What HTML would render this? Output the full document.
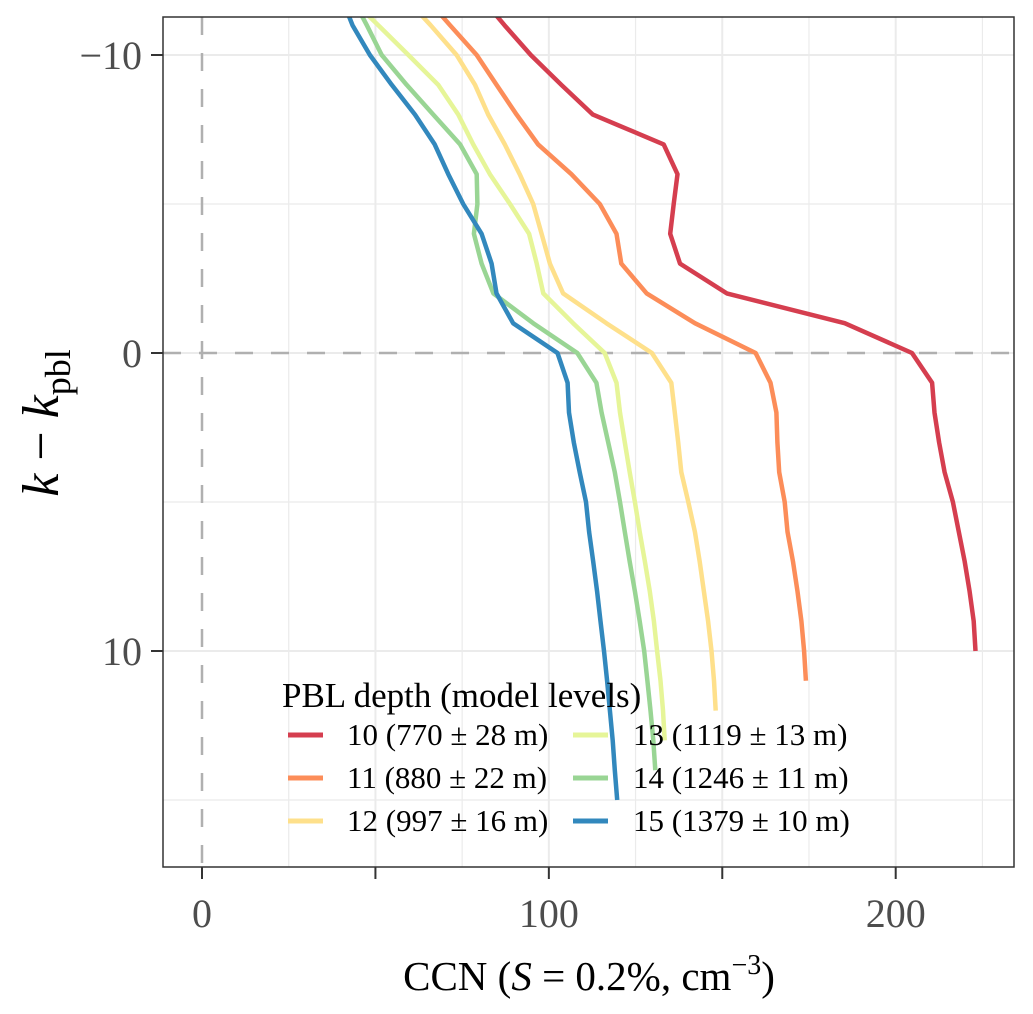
<!DOCTYPE html>
<html><head><meta charset="utf-8"><style>
html,body{margin:0;padding:0;background:#fff;}
svg{display:block;font-family:"Liberation Serif",serif;}
</style></head><body>
<svg id="chart" width="1033" height="1014" viewBox="0 0 1033 1014">
<defs><clipPath id="pc"><rect x="163" y="17" width="851" height="850"/></clipPath></defs>
<rect x="163" y="17" width="851" height="850" fill="#fff"/>
<g id="grid"></g>
<g id="series" clip-path="url(#pc)"></g>
<rect x="163" y="17" width="851" height="850" fill="none" stroke="#333" stroke-width="1.5"/>
<g id="axes"></g>
<text x="589" y="990" text-anchor="middle" font-size="41" fill="#000">CCN (<tspan font-style="italic">S</tspan> = 0.2%, cm<tspan dy="-16" font-size="28">−3</tspan><tspan dy="16">)</tspan></text>
<text transform="translate(58,423) rotate(-90)" text-anchor="middle" font-size="52" fill="#000"><tspan font-style="italic">k</tspan> − <tspan font-style="italic">k</tspan><tspan dy="12" font-size="36">pbl</tspan></text>
<g id="legend">
<text x="282" y="707" font-size="35" fill="#000">PBL depth (model levels)</text>
</g>
</svg>
<script>
const levels = [-12,-11,-10,-9,-8,-7,-6,-5,-4,-3,-2,-1,0,1,2,3,4,5,6,7,8,9,10,11,12,13,14,15];
const s10 = [80,87.2,94.8,103.6,112.7,133.1,137.1,136,135,137.8,151.3,185.3,204.7,210.5,211.2,212.5,214.1,216.5,218.2,219.9,221.3,222.5,223];
const s11 = [64,71.5,79.2,84.9,90.7,96.9,106.5,114.7,119.5,120.9,128.2,142.1,159.6,163.9,165.6,165.9,166.4,168,168.8,170.4,171.7,172.8,173.6,174.1];
const s12 = [58,65.9,73.4,78.7,82.5,87.3,91.6,95.5,97.9,100.3,104.1,116.6,129.7,135.3,136.3,137.3,138.2,140.2,142.1,143.5,144.7,145.9,146.9,147.6,148.1];
const s13 = [42,50.8,59.5,68.1,73.9,78.2,83,88.8,94.3,96.5,98.4,107,116.1,119.5,120.5,121.9,123.3,124.8,126.2,127.7,129.1,130.3,131.2,132.2,132.9,133.4];
const s14 = [43,47.5,51.8,59,66.7,74.4,79.2,79.4,78.4,80.6,84,95.5,108.2,113.7,115.2,117.1,119,120.5,121.9,123.3,124.8,126.2,127.5,128.4,129.3,130.1,130.7];
const s15 = [40,43.4,48.4,54.7,61.4,67.1,71,75.3,80.6,83.5,84.9,89.7,102.5,105.4,105.8,107.2,108.9,110.7,111.6,112.8,113.9,114.9,115.9,116.8,117.6,118.4,119,119.7];
const seriesNames = ["10 (770 ± 28 m)","11 (880 ± 22 m)","12 (997 ± 16 m)","13 (1119 ± 13 m)","14 (1246 ± 11 m)","15 (1379 ± 10 m)"];
const seriesColors = ["#d53e4f","#fc8d59","#fee08b","#e6f598","#99d594","#3288bd"];
const xTicks = [0,100,200];
const xMinorTicks = [50,150];
const yTicks = [-10,0,10];
const yTickLabels = ["−10","0","10"];

const NS="http://www.w3.org/2000/svg";
const X = v => 202 + v*3.4685;
const Y = k => 353 + k*29.8;
function mk(tag, attrs, parent){const e=document.createElementNS(NS,tag);for(const a in attrs)e.setAttribute(a,attrs[a]);parent.appendChild(e);return e;}
const grid=document.getElementById('grid'), axes=document.getElementById('axes'), ser=document.getElementById('series'), leg=document.getElementById('legend');
for(let v=25;v<=250;v+=25){
  const g=mk('line',{x1:X(v),x2:X(v),y1:17,y2:867,stroke:'#ebebeb','stroke-width':(v%50===0)?2:1.2},grid);
  
  
}
for(let k=-10;k<=15;k+=5){
  const g=mk('line',{x1:163,x2:1014,y1:Y(k),y2:Y(k),stroke:'#ebebeb','stroke-width':(k%10===0)?2:1.2},grid);
  
  
}
const d1=mk('line',{x1:X(0),x2:X(0),y1:17,y2:867,stroke:'#b0b0b0','stroke-width':2.5,'stroke-dasharray':'18 18'},grid);


const d2=mk('line',{x1:163,x2:1014,y1:Y(0),y2:Y(0),stroke:'#b0b0b0','stroke-width':2.5,'stroke-dasharray':'18 18'},grid);


const allSeries=[s10,s11,s12,s13,s14,s15];
allSeries.forEach((s,i)=>{
  const pts=s.map((v,j)=>X(v).toFixed(1)+','+Y(levels[j]).toFixed(1)).join(' ');
  const p=mk('polyline',{points:pts,fill:'none',stroke:seriesColors[i],'stroke-width':4.5,'stroke-linejoin':'round'},ser);
  
  
});
xTicks.concat(xMinorTicks).forEach(v=>{
  const t=mk('line',{x1:X(v),x2:X(v),y1:867,y2:879,stroke:'#333','stroke-width':2},axes);
  
  
});
xTicks.forEach(v=>{
  const t=mk('text',{x:X(v),y:927,'text-anchor':'middle','font-size':40,fill:'#4d4d4d'},axes);
  t.textContent=String(v);
  
  
});
yTicks.forEach((k,i)=>{
  const t=mk('line',{x1:151,x2:163,y1:Y(k),y2:Y(k),stroke:'#333','stroke-width':2},axes);
  
  
  const l=mk('text',{x:142,y:Y(k)+14,'text-anchor':'end','font-size':40,fill:'#4d4d4d'},axes);
  l.textContent=yTickLabels[i];
  
  
});
seriesNames.forEach((n,i)=>{
  const col=Math.floor(i/3), row=i%3;
  const kx=col?573:288, tx=col?633:347, ky=735+row*43;
  const k=mk('line',{x1:kx,x2:kx+35,y1:ky,y2:ky,stroke:seriesColors[i],'stroke-width':5},leg);
  
  
  const t=mk('text',{x:tx,y:ky+10,'font-size':31,fill:'#000'},leg);
  t.textContent=n;
  
  
});
</script>
</body></html>
